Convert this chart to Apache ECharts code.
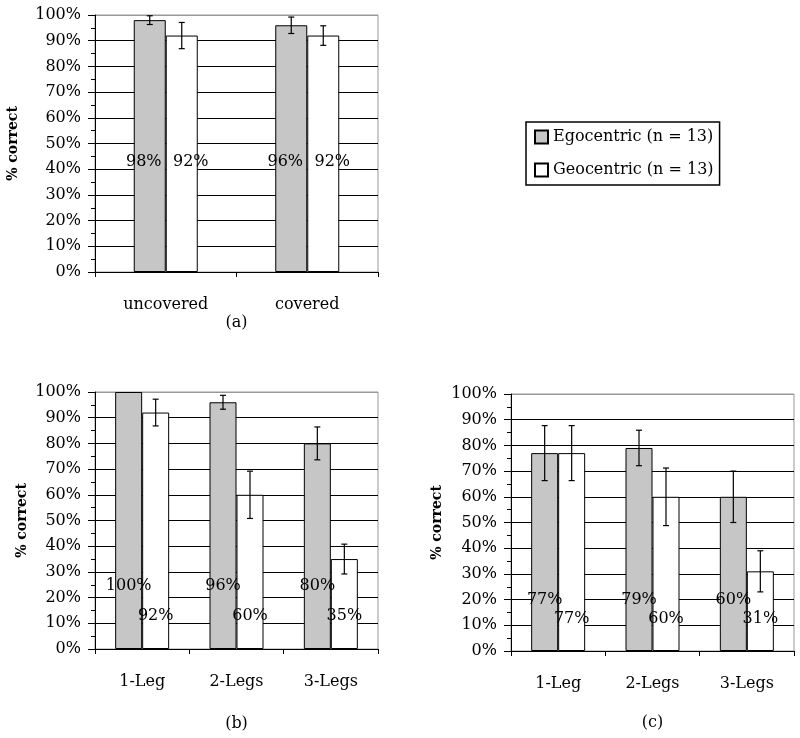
<!DOCTYPE html>
<html>
<head>
<meta charset="utf-8">
<script src="https://cdn.jsdelivr.net/npm/echarts@6/dist/echarts.min.js"></script>
<style>
  html, body { margin: 0; padding: 0; background: #fff; }
  #chart { width: 800px; height: 738px; }
</style>
</head>
<body>
<div id="chart"></div>
<script>
const FONT = 'DejaVu Serif'
const EGO = 'Egocentric (n = 13)'
const GEO = 'Geocentric (n = 13)'

// (a) covered / uncovered
const categoriesA = ['uncovered', 'covered']
const egoA = [98, 96]
const geoA = [92, 92]
const egoErrA = [1.7, 3.2]
const geoErrA = [5.1, 3.8]

// (b) and (c) number of legs
const categoriesLegs = ['1-Leg', '2-Legs', '3-Legs']
const egoB = [100, 96, 80]
const geoB = [92, 60, 35]
const egoErrB = [0, 2.7, 6.4]
const geoErrB = [5.2, 9.2, 5.8]

const egoC = [77, 79, 60]
const geoC = [77, 60, 31]
const egoErrC = [10.7, 6.9, 10]
const geoErrC = [10.7, 11.2, 8]

// gridline colours: black, top one grey
const splitColors = ['#000', '#000', '#000', '#000', '#000', '#000', '#000', '#000', '#000', '#000', '#999']

function yAxis(idx, nameGap) {
  return {
    type: 'value',
    gridIndex: idx,
    min: 0,
    max: 100,
    interval: 10,
    name: '% correct',
    nameLocation: 'middle',
    nameGap: nameGap,
    nameTextStyle: { fontFamily: FONT, fontSize: 14, fontWeight: 'bold', color: '#000' },
    axisLine: { show: true, lineStyle: { color: '#000', width: 1 } },
    axisTick: { show: true, length: 7, lineStyle: { color: '#000' } },
    minorTick: { show: true, splitNumber: 2, length: 4, lineStyle: { color: '#000' } },
    axisLabel: { formatter: '{value}%', margin: 14, fontFamily: FONT, fontSize: 16, color: '#000' },
    splitLine: { show: true, lineStyle: { color: splitColors, width: 1 } },
  }
}

function xAxis(idx, cats, caption, captionGap) {
  return {
    type: 'category',
    gridIndex: idx,
    data: cats,
    name: caption,
    nameLocation: 'middle',
    nameGap: captionGap,
    nameTextStyle: { fontFamily: FONT, fontSize: 16, color: '#000' },
    axisLine: { show: true, lineStyle: { color: '#000', width: 1 } },
    axisTick: { show: true, length: 5, lineStyle: { color: '#000' } },
    axisLabel: { margin: 25, fontFamily: FONT, fontSize: 16, color: '#000' },
    splitLine: { show: false },
  }
}

function bars(idx, name, values, color, barW, lift, shift) {
  return {
    type: 'bar',
    name: name,
    xAxisIndex: idx,
    yAxisIndex: idx,
    data: values,
    barWidth: barW,
    barGap: '0%',
    itemStyle: { color: color, borderColor: '#000', borderWidth: 1 },
    label: {
      show: true,
      position: 'insideBottom',
      distance: lift,
      offset: [shift || 0, 0],
      formatter: '{c}%',
      fontFamily: FONT,
      fontSize: 16,
      color: '#000',
    },
    z: 2,
  }
}

function errorSeries(idx, values, errs, side, barW) {
  const data = values.map((v, i) => [i, v - errs[i], v + errs[i], side])
  return {
    type: 'custom',
    name: 'err' + idx + side,
    xAxisIndex: idx,
    yAxisIndex: idx,
    data: data,
    encode: { x: 0, y: [1, 2] },
    z: 3,
    silent: true,
    renderItem(params, api) {
      const lo = api.value(1)
      const hi = api.value(2)
      if (hi - lo < 0.01) return
      const x = api.coord([api.value(0), 0])[0] + api.value(3) * barW / 2
      const top = api.coord([api.value(0), hi])[1]
      const bot = api.coord([api.value(0), lo])[1]
      const cap = 3
      const st = { stroke: '#000', lineWidth: 1.2 }
      return {
        type: 'group',
        children: [
          { type: 'line', shape: { x1: x, y1: top, x2: x, y2: bot }, style: st },
          { type: 'line', shape: { x1: x - cap, y1: top, x2: x + cap, y2: top }, style: st },
          { type: 'line', shape: { x1: x - cap, y1: bot, x2: x + cap, y2: bot }, style: st },
        ],
      }
    },
  }
}

const GRAY = '#c6c6c6'
const WHITE = '#ffffff'

const option = {
  backgroundColor: '#fff',
  animation: false,
  textStyle: { fontFamily: FONT },
  legend: {
    orient: 'vertical',
    left: 526,
    top: 122,
    data: [EGO, GEO],
    icon: 'rect',
    itemWidth: 13,
    itemHeight: 13,
    itemGap: 17,
    itemTextGap: 5,
    padding: [7, 6, 7, 8],
    borderColor: '#000',
    borderWidth: 1.5,
    textStyle: { fontFamily: FONT, fontSize: 16, color: '#000' },
  },
  grid: [
    { left: 95, top: 15, width: 283, height: 257, show: true, borderColor: '#999', borderWidth: 1, backgroundColor: '#fff' },
    { left: 95, top: 392, width: 283, height: 257, show: true, borderColor: '#999', borderWidth: 1, backgroundColor: '#fff' },
    { left: 511, top: 394, width: 283, height: 257, show: true, borderColor: '#999', borderWidth: 1, backgroundColor: '#fff' },
  ],
  xAxis: [
    xAxis(0, categoriesA, '(a)', 43),
    xAxis(1, categoriesLegs, '(b)', 67),
    xAxis(2, categoriesLegs, '(c)', 64),
  ],
  yAxis: [
    yAxis(0, 75),
    yAxis(1, 66),
    yAxis(2, 67),
  ],
  series: [
    bars(0, EGO, egoA, GRAY, 32, 102, -6),
    bars(0, GEO, geoA, WHITE, 32, 102, 9),
    errorSeries(0, egoA, egoErrA, -1, 32),
    errorSeries(0, geoA, geoErrA, 1, 32),

    bars(1, EGO, egoB, GRAY, 27, 55),
    bars(1, GEO, geoB, WHITE, 27, 25),
    errorSeries(1, egoB, egoErrB, -1, 27),
    errorSeries(1, geoB, geoErrB, 1, 27),

    bars(2, EGO, egoC, GRAY, 27, 43),
    bars(2, GEO, geoC, WHITE, 27, 24),
    errorSeries(2, egoC, egoErrC, -1, 27),
    errorSeries(2, geoC, geoErrC, 1, 27),
  ],
}

const chart = echarts.init(document.getElementById('chart'), null, { renderer: 'canvas' })
chart.setOption(option)
</script>
</body>
</html>
